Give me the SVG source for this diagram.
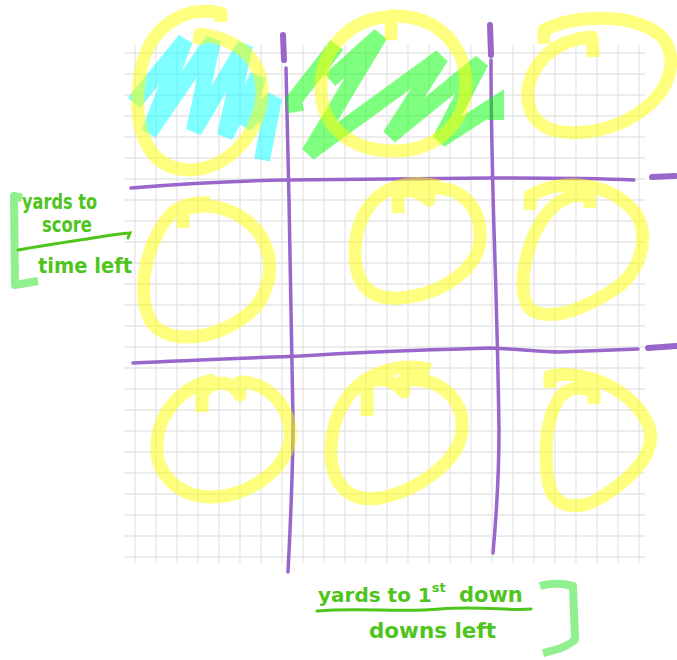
<svg xmlns="http://www.w3.org/2000/svg" width="677" height="660" viewBox="0 0 677 660">
<style>
.grid{stroke:#e6e6e6;stroke-width:1.3;fill:none}
.pl{stroke:#9966cc;stroke-width:3.5;fill:none;stroke-linecap:round;stroke-linejoin:round}
.pd{stroke:#9966cc;stroke-width:6;fill:none;stroke-linecap:round}
.yl{stroke:#ffff00;stroke-opacity:0.5;stroke-width:13;fill:none;stroke-linecap:butt;stroke-linejoin:round}
.cy{stroke:#00ffff;stroke-opacity:0.5;stroke-width:16;fill:none;stroke-linejoin:miter;stroke-miterlimit:3}
.gr{stroke:#00ff00;stroke-opacity:0.5;stroke-width:16;fill:none;stroke-linejoin:miter;stroke-miterlimit:3}
.lbl{font-family:"DejaVu Sans",sans-serif;font-size:21px;font-weight:bold;fill:#4fc41c}
.ul{stroke:#4fc41c;stroke-width:3;fill:none;stroke-linecap:round}
.br{stroke:#90f090;stroke-width:8;fill:none;stroke-linejoin:round}
</style>
<rect width="677" height="660" fill="#ffffff"/>
<g id="grid">
<path class="grid" d="M135,45V563M156,45V563M177,45V563M198,45V563M219,45V563M240,45V563M261,45V563M282,45V563M303,45V563M324,45V563M345,45V563M366,45V563M387,45V563M408,45V563M429,45V563M450,45V563M471,45V563M492,45V563M513,45V563M534,45V563M555,45V563M576,45V563M597,45V563M618,45V563M639,45V563"/>
<path class="grid" d="M124,53H645M124,74H645M124,95H645M124,116H645M124,137H645M124,158H645M124,179H645M124,200H645M124,221H645M124,242H645M124,263H645M124,284H645M124,305H645M124,326H645M124,347H645M124,368H645M124,389H645M124,410H645M124,431H645M124,452H645M124,473H645M124,494H645M124,515H645M124,536H645M124,557H645"/>
</g>
<g id="connectors">
<path class="pd" d="M283,35L284,60"/>
<path class="pd" d="M490,25L491,55"/>
<path class="pl" d="M286,68C287,120 288,160 289,200C290,280 292,340 293,420C293,480 290,530 288,572"/>
<path class="pl" d="M491,60C491,100 492,160 494,230C496,290 498,360 499,430C499,480 496,520 493,553"/>
<path class="pl" d="M131,188C180,184 230,181 287,180C360,179 430,178 491,178C540,178 590,178 634,180"/>
<path class="pd" d="M652,177L675,176"/>
<path class="pl" d="M133,363C190,360 250,358 300,356C360,352 420,350 490,348C520,349 540,352 560,352C590,351 615,350 638,349"/>
<path class="pd" d="M648,348L676,346"/>
</g>
<g id="cell-1">
<path class="cy" d="M134,103L185,40L149,133L213,40L194,131L245,45L225,136L258,76L245,125L274,98L262,160"/>
<path class="yl" d="M221,22L221,13C185,5 148,25 140,75C132,125 145,168 188,170C230,170 262,130 262,92C262,60 240,40 200,34L199,44"/>
</g>
<g id="cell-2">
<path class="gr" d="M296,112L294,100L337,45"/>
<path class="gr" d="M330,80L380,35L309,153L441,57L390,136L481,62L440,140L496,104L496,120"/>
<path class="yl" d="M391,40L391,16C440,14 468,50 466,88C464,125 435,152 392,151C348,150 320,125 321,85C322,45 355,18 388,17"/>
</g>
<g id="cell-3">
<path class="yl" d="M544,44L544,30C575,15 630,12 660,35C680,55 672,90 640,112C615,130 580,137 552,130C530,122 522,100 532,75C545,48 570,38 592,37L593,57"/>
</g>
<g id="cell-4">
<path class="yl" d="M183,228L183,210C210,200 240,210 258,232C278,260 272,300 240,320C210,340 165,345 150,320C135,290 148,240 170,215C180,205 195,202 210,203"/>
</g>
<g id="cell-5">
<path class="yl" d="M398,213L398,198C402,188 415,188 429,200L429,188C460,186 482,205 480,240C478,270 440,295 400,298C370,300 356,285 355,255C355,215 375,188 410,184C420,183 430,184 440,186"/>
</g>
<g id="cell-6">
<path class="yl" d="M530,210L530,196C560,178 610,180 637,215C650,240 640,275 610,292C585,308 555,320 535,312C518,305 522,270 530,245C540,215 560,195 580,195L590,198L590,208"/>
</g>
<g id="cell-7">
<path class="yl" d="M202,412L202,395C210,380 230,378 240,395L240,382C270,382 293,410 290,440C285,470 250,495 215,497C180,498 155,475 157,445C158,410 185,385 215,380"/>
</g>
<g id="cell-8">
<path class="yl" d="M367,416L367,385C375,376 392,378 404,392L404,380C440,376 465,400 462,430C460,460 420,490 380,498C350,503 332,485 331,455C330,415 350,385 375,375C395,366 415,365 430,370"/>
</g>
<g id="cell-9">
<path class="yl" d="M550,388L550,376C590,368 640,395 650,430C655,455 630,480 600,498C580,510 555,510 549,485C543,455 546,420 558,400C565,388 580,385 594,392L594,404"/>
</g>
<g id="label-left">
<path class="br" d="M22,198L14,196L15,285L38,281"/>
<text class="lbl" x="22" y="209" textLength="75" lengthAdjust="spacingAndGlyphs">yards to</text>
<text class="lbl" x="42" y="232" textLength="50" lengthAdjust="spacingAndGlyphs">score</text>
<path class="ul" d="M18,250C40,246 60,243 80,240C100,237 115,234 130,233L128,238"/>
<text class="lbl" x="38" y="273" textLength="94" lengthAdjust="spacingAndGlyphs">time left</text>
</g>
<g id="label-bottom">
<text class="lbl" x="318" y="602" style="font-size:20px">yards to 1<tspan dy="-10" style="font-size:13px">st</tspan><tspan x="459" dy="10" style="font-size:21px">down</tspan></text>
<path class="ul" d="M317,611C360,607 400,613 440,609C480,606 510,611 531,609"/>
<text class="lbl" x="369" y="638" textLength="127" lengthAdjust="spacingAndGlyphs">downs left</text>
<path class="br" d="M540,586C555,582 565,584 573,586L575,640C565,648 555,650 543,653"/>
</g>
</svg>
